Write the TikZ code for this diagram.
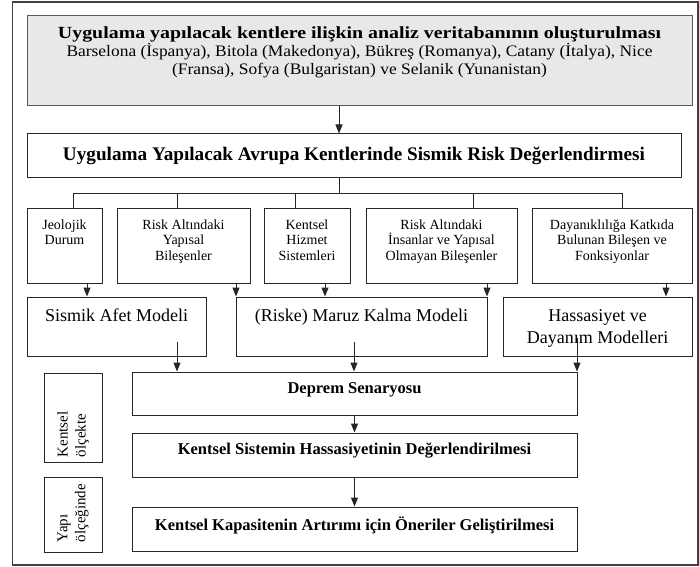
\documentclass[tikz,border=0pt]{standalone}
\usepackage{fontspec}
\setmainfont{Liberation Serif}
\newfontfamily\genisA{Liberation Serif}[FakeStretch=1.17]
\newfontfamily\genisB{Liberation Serif}[FakeStretch=1.09]
\usetikzlibrary{arrows.meta}

\tikzset{
  kutu/.style={draw=black!85, line width=1pt, inner sep=0pt},
  yazi/.style={anchor=north, align=center, inner sep=0pt},
  hat/.style={draw=black!85, line width=1pt},
  ok/.style={hat, -{Triangle[length=9pt,width=7pt]}},
}

\begin{document}
\begin{tikzpicture}[x=1pt,y=-1pt]
\useasboundingbox (0,0) rectangle (699,567);
\draw[black!75, line width=1.2pt] (12.5,2) rectangle (698,565);

% ust kutular
\node[kutu, fill=black!9, draw=black!65, minimum width=665pt, minimum height=90pt] (veri) at (359.5,61) {};
\node[yazi, font={\genisB\fontsize{16}{18.3}\selectfont\lineskiplimit-20pt\relax}] (verit) at ([yshift=-10.8pt]veri.north)
  {{\genisA\fontsize{17}{18.3}\selectfont\bfseries Uygulama yapılacak kentlere ilişkin analiz veritabanının oluşturulması}\\
   Barselona (İspanya), Bitola (Makedonya), Bükreş (Romanya), Catany (İtalya), Nice\\
   (Fransa), Sofya (Bulgaristan) ve Selanik (Yunanistan)};
\node[kutu, minimum width=654pt, minimum height=44pt, font=\fontsize{19.2}{21}\selectfont\bfseries] (avrupa) at (354,156)
  {Uygulama Yapılacak Avrupa Kentlerinde Sismik Risk Değerlendirmesi};

% bilesenler
\node[kutu, minimum width=75pt, minimum height=75pt] (jeo) at (64.5,245.5) {};
\node[kutu, minimum width=133pt, minimum height=75pt] (yapi) at (183.5,245.5) {};
\node[kutu, minimum width=86pt, minimum height=75pt] (hiz) at (307,245.5) {};
\node[kutu, minimum width=151pt, minimum height=75pt] (ins) at (441.5,245.5) {};
\node[kutu, minimum width=160pt, minimum height=75pt] (day) at (612,245.5) {};
\foreach \k/\t in {jeo/{Jeolojik\\Durum}, yapi/{Risk Altındaki\\Yapısal\\Bileşenler},
  hiz/{Kentsel\\Hizmet\\Sistemleri}, ins/{Risk Altındaki\\İnsanlar ve Yapısal\\Olmayan Bileşenler},
  day/{Dayanıklılığa Katkıda\\Bulunan Bileşen ve\\Fonksiyonlar}}
  \node[yazi, font=\fontsize{14}{15.5}\selectfont] (\k t) at ([yshift=-12pt]\k.north) {\t};

% modeller
\node[kutu, minimum width=179pt, minimum height=59pt] (afet) at (116.5,326.5) {};
\node[kutu, minimum width=251pt, minimum height=59pt] (maruz) at (361.5,326.5) {};
\node[kutu, minimum width=189pt, minimum height=59pt] (hass) at (597.5,326.5) {};
\foreach \k/\t in {afet/{Sismik Afet Modeli}, maruz/{(Riske) Maruz Kalma Modeli},
  hass/{Hassasiyet ve\\Dayanım Modelleri}}
  \node[yazi, font=\fontsize{18}{22}\selectfont] (\k t) at ([yshift=-12.5pt]\k.north) {\t};

% senaryo ve sonrasi
\node[kutu, minimum width=445pt, minimum height=43pt] (sen) at (354.5,393.5) {};
\node[kutu, minimum width=445pt, minimum height=44pt] (has) at (354.5,455) {};
\node[kutu, minimum width=445pt, minimum height=44pt] (oneri) at (354.5,529) {};
\foreach \k/\t in {sen/{Deprem Senaryosu}, has/{Kentsel Sistemin Hassasiyetinin Değerlendirilmesi},
  oneri/{Kentsel Kapasitenin Artırımı için Öneriler Geliştirilmesi}}
  \node[yazi, font=\fontsize{16.5}{18}\selectfont\bfseries] (\k t) at ([yshift=-10.5pt]\k.north) {\t};

% olcek kutulari
\node[kutu, minimum width=58pt, minimum height=89pt] (kent) at (73,417.5) {};
\node[kutu, minimum width=58pt, minimum height=75pt] (yapo) at (73,514.5) {};
\node[yazi, anchor=west, align=left, rotate=90, font=\fontsize{15}{18}\selectfont] (kentt) at ([yshift=5pt]kent.south) {Kentsel\\ölçekte};
\node[yazi, anchor=west, align=left, rotate=90, font=\fontsize{15}{18}\selectfont] (yapot) at ([yshift=10pt]yapo.south) {Yapı\\ölçeğinde};

% baglantilar
\coordinate (ana) at (339,193);
\coordinate (bsol) at (73,193);
\coordinate (bsag) at (622,193);
\draw[ok] (veri.south -| ana) -- (avrupa.north -| ana);
\draw[hat] (avrupa.south -| ana) -- (ana);
\draw[hat] (bsol) -- (bsag);
\foreach \x/\a in {73/jeo, 177/yapi, 295/hiz, 473/ins, 622/day} {
  \coordinate (d) at (\x,193);
  \draw[hat] (d) -- (d |- \a.north);
}
\foreach \x/\a/\b in {87/jeo/afet, 236/yapi/maruz, 325/hiz/maruz, 487/ins/maruz, 666/day/hass} {
  \coordinate (k) at (\x,0);
  \draw[ok] (\a.south -| k) -- (\b.north -| k);
}
\foreach \x/\y in {177/342, 354/342, 577/338} {
  \coordinate (c) at (\x,\y);
  \draw[ok] (c) -- (c |- sen.north);
}
\draw[ok] (sen.south) -- (has.north);
\draw[ok] (has.south) -- (oneri.north);
\end{tikzpicture}
\end{document}
